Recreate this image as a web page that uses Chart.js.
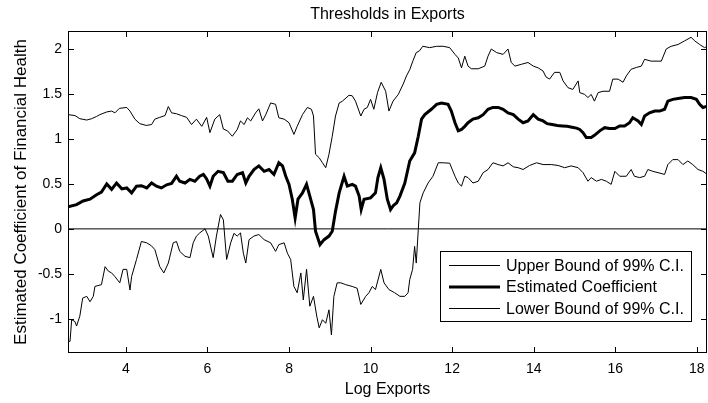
<!DOCTYPE html>
<html>
<head>
<meta charset="utf-8">
<script src="https://cdn.jsdelivr.net/npm/chart.js@4"></script>
<style>
  html, body { margin: 0; padding: 0; background: #fff; }
  canvas { display: block; }
</style>
</head>
<body>
<canvas id="thresholds" width="708" height="403"></canvas>
<script>
// axis ranges and ticks
const xMin = 2.58, xMax = 18.25;
const yMin = -1.38, yMax = 2.2;
const xTicks = [4, 6, 8, 10, 12, 14, 16, 18];
const yTicks = [-1, -0.5, 0, 0.5, 1, 1.5, 2];

// upper bound of 99% C.I.
const upperX = [2.58,2.75,2.87,3.04,3.16,3.28,3.36,3.53,3.65,3.73,3.84,4.02,4.1,4.22,4.34,4.5,4.63,4.71,4.83,4.96,5.04,5.12,5.24,5.36,5.49,5.61,5.73,5.86,5.98,6.06,6.18,6.3,6.39,6.49,6.61,6.73,6.81,6.9,6.98,7.06,7.18,7.26,7.35,7.43,7.55,7.67,7.75,7.88,8.0,8.12,8.2,8.33,8.45,8.55,8.6,8.65,8.74,8.82,8.9,8.98,9.06,9.14,9.23,9.31,9.47,9.55,9.63,9.76,9.84,9.92,10.0,10.08,10.17,10.26,10.37,10.45,10.55,10.68,10.8,10.88,10.96,11.04,11.12,11.2,11.28,11.45,11.62,11.78,11.94,12.07,12.15,12.23,12.31,12.39,12.47,12.64,12.8,12.88,12.96,13.09,13.25,13.37,13.45,13.54,13.7,13.86,13.99,14.11,14.23,14.3,14.39,14.51,14.64,14.72,14.84,14.96,15.09,15.13,15.25,15.33,15.41,15.49,15.58,15.7,15.86,15.94,16.07,16.19,16.27,16.39,16.52,16.64,16.72,16.88,17.05,17.13,17.25,17.37,17.54,17.7,17.86,17.95,18.07,18.19,18.26];
const upperY = [1.27,1.26,1.225,1.21,1.225,1.25,1.27,1.30,1.31,1.29,1.34,1.35,1.31,1.22,1.17,1.15,1.16,1.22,1.24,1.26,1.36,1.29,1.28,1.26,1.24,1.16,1.22,1.14,1.24,1.07,1.22,1.27,1.11,1.09,1.03,1.105,1.2,1.16,1.235,1.2,1.29,1.335,1.2,1.27,1.40,1.385,1.235,1.22,1.18,1.05,1.14,1.27,1.35,1.33,1.255,0.83,0.79,0.735,0.68,0.83,1.03,1.255,1.40,1.42,1.485,1.48,1.42,1.255,1.33,1.35,1.44,1.33,1.515,1.63,1.53,1.31,1.42,1.495,1.61,1.70,1.77,1.87,1.96,1.98,2.03,2.015,2.03,2.03,2.015,1.94,1.90,1.79,1.92,1.81,1.78,1.78,1.81,1.92,2.0,1.96,1.94,2.0,1.85,1.81,1.83,1.85,1.81,1.79,1.755,1.69,1.665,1.74,1.74,1.645,1.57,1.55,1.645,1.515,1.495,1.46,1.495,1.42,1.515,1.53,1.53,1.665,1.665,1.63,1.70,1.775,1.795,1.81,1.885,1.865,1.865,1.865,2.0,2.03,2.05,2.09,2.13,2.09,2.05,2.015,2.03];

// estimated coefficient
const estX = [2.58,2.79,2.95,3.12,3.28,3.4,3.53,3.65,3.77,3.9,4.02,4.14,4.26,4.38,4.51,4.63,4.75,4.87,5.0,5.12,5.24,5.32,5.45,5.57,5.69,5.81,5.9,5.98,6.06,6.14,6.26,6.39,6.5,6.61,6.73,6.86,6.94,7.02,7.14,7.26,7.39,7.51,7.63,7.75,7.84,7.92,8.0,8.08,8.15,8.22,8.33,8.43,8.51,8.6,8.65,8.76,8.86,8.98,9.06,9.14,9.23,9.35,9.43,9.55,9.63,9.72,9.77,9.84,10.0,10.12,10.18,10.25,10.33,10.41,10.49,10.56,10.64,10.72,10.84,10.96,11.08,11.17,11.25,11.33,11.49,11.62,11.74,11.9,11.98,12.07,12.15,12.23,12.31,12.39,12.51,12.64,12.76,12.88,13.0,13.13,13.25,13.37,13.5,13.62,13.74,13.86,13.99,14.11,14.23,14.33,14.45,14.58,14.7,14.82,14.94,15.05,15.13,15.21,15.29,15.41,15.49,15.62,15.74,15.86,15.99,16.11,16.23,16.35,16.43,16.56,16.64,16.72,16.84,16.97,17.09,17.21,17.29,17.41,17.54,17.7,17.86,17.99,18.07,18.15,18.26];
const estY = [0.245,0.27,0.31,0.33,0.38,0.41,0.50,0.44,0.51,0.445,0.455,0.40,0.475,0.48,0.455,0.51,0.475,0.455,0.49,0.505,0.585,0.53,0.51,0.55,0.53,0.585,0.605,0.555,0.475,0.585,0.64,0.625,0.53,0.53,0.605,0.625,0.51,0.585,0.66,0.70,0.64,0.66,0.605,0.735,0.70,0.585,0.495,0.33,0.12,0.33,0.40,0.495,0.365,0.215,-0.026,-0.175,-0.12,-0.08,-0.026,0.195,0.40,0.585,0.475,0.495,0.475,0.365,0.215,0.33,0.345,0.40,0.57,0.68,0.55,0.33,0.215,0.26,0.29,0.365,0.51,0.755,0.845,1.03,1.22,1.27,1.33,1.385,1.40,1.385,1.31,1.18,1.09,1.105,1.14,1.18,1.22,1.235,1.27,1.33,1.35,1.35,1.33,1.29,1.27,1.22,1.18,1.20,1.27,1.22,1.20,1.17,1.16,1.15,1.145,1.14,1.13,1.12,1.105,1.07,1.015,1.015,1.04,1.09,1.125,1.115,1.115,1.145,1.145,1.18,1.235,1.20,1.16,1.255,1.29,1.31,1.31,1.33,1.42,1.44,1.45,1.46,1.46,1.44,1.385,1.35,1.365];

// lower bound of 99% C.I.
const lowerX = [2.58,2.63,2.67,2.75,2.79,2.87,2.94,3.04,3.12,3.2,3.24,3.4,3.49,3.57,3.65,3.73,3.85,3.93,4.02,4.1,4.14,4.26,4.38,4.51,4.63,4.71,4.83,4.93,5.04,5.16,5.24,5.32,5.45,5.57,5.65,5.73,5.81,5.94,6.02,6.14,6.22,6.32,6.39,6.47,6.57,6.65,6.73,6.81,6.88,6.94,7.02,7.14,7.26,7.39,7.55,7.67,7.75,7.88,7.96,8.04,8.12,8.2,8.29,8.35,8.43,8.51,8.6,8.68,8.74,8.82,8.9,8.98,9.04,9.1,9.18,9.27,9.39,9.55,9.67,9.76,9.88,9.96,10.04,10.12,10.25,10.33,10.45,10.59,10.72,10.84,10.92,10.96,11.03,11.08,11.12,11.17,11.21,11.29,11.41,11.53,11.66,11.78,11.94,12.07,12.15,12.23,12.31,12.39,12.51,12.64,12.76,12.88,13.0,13.13,13.25,13.37,13.5,13.62,13.74,13.9,14.07,14.23,14.43,14.6,14.76,14.92,15.09,15.21,15.33,15.41,15.54,15.66,15.78,15.9,15.99,16.11,16.27,16.39,16.47,16.6,16.72,16.8,16.92,17.05,17.21,17.29,17.41,17.54,17.66,17.78,17.9,18.03,18.15,18.26];
const lowerY = [-1.25,-1.25,-1.01,-1.03,-1.08,-0.97,-0.77,-0.75,-0.81,-0.75,-0.64,-0.62,-0.42,-0.47,-0.49,-0.53,-0.60,-0.45,-0.45,-0.68,-0.53,-0.34,-0.14,-0.155,-0.19,-0.23,-0.42,-0.49,-0.38,-0.155,-0.14,-0.25,-0.305,-0.32,-0.155,-0.08,-0.045,0.0,-0.08,-0.32,-0.08,0.16,0.10,-0.34,-0.155,-0.05,-0.08,-0.045,-0.27,-0.38,-0.12,-0.08,-0.063,-0.12,-0.155,-0.25,-0.175,-0.155,-0.27,-0.34,-0.64,-0.71,-0.49,-0.79,-0.45,-0.86,-0.75,-0.97,-1.10,-1.01,-1.05,-0.90,-1.18,-0.75,-0.60,-0.60,-0.62,-0.64,-0.66,-0.84,-0.75,-0.71,-0.64,-0.675,-0.45,-0.60,-0.675,-0.71,-0.75,-0.75,-0.71,-0.565,-0.45,-0.195,-0.38,-0.007,0.29,0.40,0.51,0.585,0.735,0.735,0.73,0.585,0.51,0.475,0.585,0.57,0.51,0.53,0.625,0.66,0.735,0.715,0.70,0.735,0.69,0.68,0.66,0.705,0.735,0.715,0.715,0.705,0.68,0.70,0.68,0.625,0.53,0.57,0.53,0.55,0.53,0.495,0.64,0.585,0.585,0.66,0.585,0.57,0.585,0.66,0.64,0.625,0.605,0.715,0.77,0.77,0.715,0.755,0.715,0.66,0.64,0.605];

const pts = (xs, ys) => xs.map((x, i) => ({ x: x, y: ys[i] }));
const FONT = "'Liberation Sans', Arial, Helvetica, sans-serif";

// box, inward ticks, title and legend drawn MATLAB style
const matlabFrame = {
  id: 'matlabFrame',
  afterDatasetsDraw(chart) {
    const { ctx, chartArea: a, scales } = chart;
    ctx.save();
    ctx.strokeStyle = '#000';
    ctx.lineWidth = 1;
    ctx.strokeRect(a.left + 0.5, a.top + 0.5, a.right - a.left - 1, a.bottom - a.top - 1);
    ctx.beginPath();
    xTicks.forEach(v => {
      const px = Math.round(scales.x.getPixelForValue(v)) + 0.5;
      ctx.moveTo(px, a.bottom); ctx.lineTo(px, a.bottom - 6);
      ctx.moveTo(px, a.top); ctx.lineTo(px, a.top + 6);
    });
    yTicks.forEach(v => {
      const py = Math.round(scales.y.getPixelForValue(v)) + 0.5;
      ctx.moveTo(a.left, py); ctx.lineTo(a.left + 6, py);
      ctx.moveTo(a.right, py); ctx.lineTo(a.right - 6, py);
    });
    ctx.stroke();

    ctx.fillStyle = '#000';
    ctx.font = '16px ' + FONT;
    ctx.textAlign = 'center';
    ctx.textBaseline = 'middle';
    ctx.fillText('Thresholds in Exports', (a.left + a.right) / 2, 15);

    // legend
    const bx = 440, by = 251, bw = 251, bh = 70;
    ctx.fillStyle = '#fff';
    ctx.fillRect(bx, by, bw, bh);
    ctx.strokeRect(bx + 0.5, by + 0.5, bw, bh);
    ctx.textAlign = 'left';
    chart.data.datasets.filter(d => d.label).forEach((d, i) => {
      const yy = 265.5 + i * 21.5;
      ctx.beginPath();
      ctx.lineWidth = d.borderWidth;
      ctx.moveTo(449, yy); ctx.lineTo(500, yy);
      ctx.stroke();
      ctx.fillStyle = '#000';
      ctx.fillText(d.label, 506, yy + 1);
    });
    ctx.restore();
  }
};

new Chart(document.getElementById('thresholds'), {
  type: 'line',
  data: {
    datasets: [
      { label: 'Upper Bound of 99% C.I.', data: pts(upperX, upperY), borderColor: '#000', borderWidth: 1 },
      { label: 'Estimated Coefficient', data: pts(estX, estY), borderColor: '#000', borderWidth: 3 },
      { label: 'Lower Bound of 99% C.I.', data: pts(lowerX, lowerY), borderColor: '#000', borderWidth: 1 },
      { label: '', data: [{ x: xMin, y: 0 }, { x: xMax, y: 0 }], borderColor: '#000', borderWidth: 1 }
    ]
  },
  plugins: [matlabFrame],
  options: {
    responsive: false,
    animation: false,
    devicePixelRatio: 1,
    layout: { padding: { left: 0, right: 1, top: 31, bottom: 0 } },
    elements: { point: { radius: 0 }, line: { tension: 0 } },
    plugins: { legend: { display: false }, tooltip: { enabled: false } },
    scales: {
      x: {
        type: 'linear', min: xMin, max: xMax,
        afterBuildTicks: s => { s.ticks = xTicks.map(v => ({ value: v })); },
        afterFit: s => { s.height = 50; s.paddingLeft = 0; s.paddingRight = 0; },
        grid: { display: false, drawTicks: false },
        border: { display: false },
        ticks: { color: '#000', padding: 8, font: { family: FONT, size: 14 }, maxRotation: 0, callback: v => String(v) },
        title: { display: true, text: 'Log Exports', color: '#000', font: { family: FONT, size: 16 }, padding: { top: 0, bottom: 4 } }
      },
      y: {
        type: 'linear', min: yMin, max: yMax,
        afterBuildTicks: s => { s.ticks = yTicks.map(v => ({ value: v })); },
        afterFit: s => { s.width = 68; s.paddingTop = 0; s.paddingBottom = 0; },
        grid: { display: false, drawTicks: false },
        border: { display: false },
        ticks: { color: '#000', padding: 6, font: { family: FONT, size: 14 }, callback: v => String(v) },
        title: { display: true, text: 'Estimated Coefficient of Financial Health', color: '#000', font: { family: FONT, size: 17 }, padding: { top: 11, bottom: 0 } }
      }
    }
  }
});
</script>
</body>
</html>
